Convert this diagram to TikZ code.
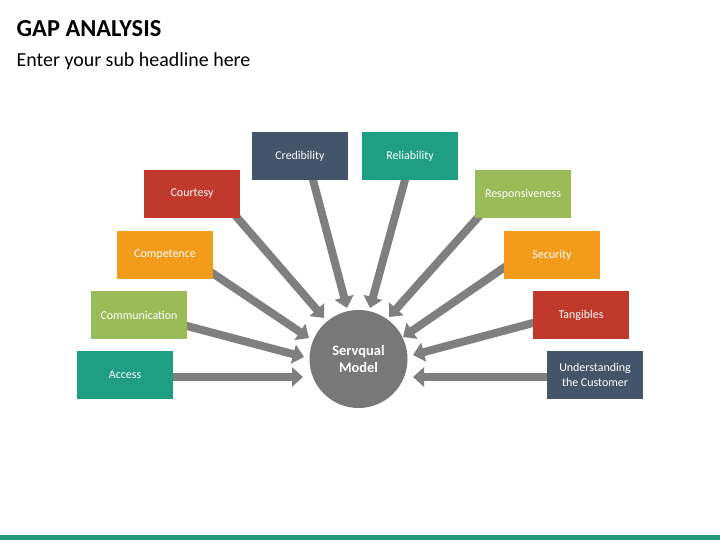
\documentclass[tikz,border=0pt]{standalone}
\usepackage{fontspec}
\setmainfont{Carlito}
\usetikzlibrary{arrows.meta,calc,backgrounds}
\definecolor{slate}{HTML}{44546A}
\definecolor{tealc}{HTML}{1F9E82}
\definecolor{redc}{HTML}{C0392B}
\definecolor{orangec}{HTML}{F39C1C}
\definecolor{greenc}{HTML}{9BBB59}
\definecolor{arrgray}{HTML}{7F7F7F}
\definecolor{circgray}{HTML}{787878}
\definecolor{barteal}{HTML}{22997A}
\begin{document}
\begin{tikzpicture}[x=1bp,y=-1bp,
  box/.style={minimum width=96bp, minimum height=48bp, inner sep=0pt, text=white,
    font=\fontsize{12}{14.3}\selectfont, align=center},
  fat/.style={draw=arrgray, line width=8bp, -{Triangle[width=19bp,length=11bp]}}]
\useasboundingbox (0,0) rectangle (720,540);
\fill[barteal] (0,534.5) rectangle (720,540);
\node[anchor=base west, inner sep=0pt, font=\bfseries\fontsize{24.5}{29}\selectfont] (title) at (16.5,36.7) {GAP ANALYSIS};
\node[anchor=base west, inner sep=0pt, font=\fontsize{20}{24}\selectfont] (sub) at (16.5,66.7) {Enter your sub headline here};

\node[box, fill=slate] (cred) at (300,156) {Credibility};
\node[box, fill=tealc] (rel) at (410,156) {Reliability};
\node[box, fill=redc] (cour) at (192,194) {Courtesy};
\node[box, fill=greenc] (resp) at (523,194) {Responsiveness};
\node[box, fill=orangec] (comp) at (165,255) {Competence};
\node[box, fill=orangec] (sec) at (552,255) {Security};
\node[box, fill=greenc] (comm) at (139,315) {Communication};
\node[box, fill=redc] (tang) at (581,315) {Tangibles};
\node[box, fill=tealc] (acc) at (125,375) {Access};
\node[box, fill=slate] (und) at (595,375) {Understanding\\the Customer};

\node[circle, fill=circgray, minimum size=98bp, inner sep=0pt, text=white,
  font=\bfseries\fontsize{14.5}{17.5}\selectfont, align=center] (srv) at (358.5,359) {Servqual\\Model};

\coordinate (tacc) at (303,377);
\coordinate (tcomm) at (304,357);
\coordinate (tcomp) at (309,338);
\coordinate (tcour) at (324,318);
\coordinate (tcred) at (347,308);
\coordinate (trel) at (370,308);
\coordinate (tresp) at (389,317);
\coordinate (tsec) at (403,337);
\coordinate (ttang) at (413,355);
\coordinate (tund) at (413,377);

\begin{scope}[on background layer]
\draw[fat] ($(acc.east)+(-4,2)$) -- (tacc);
\draw[fat] ($(comm.east)+(-4,10)$) -- (tcomm);
\draw[fat] ($(comp.east)+(-4,16)$) -- (tcomp);
\draw[fat] ($(cour.south east)+(-6,-4)$) -- (tcour);
\draw[fat] ($(cred.south)+(12,-4)$) -- (tcred);
\draw[fat] ($(rel.south)+(-4,-4)$) -- (trel);
\draw[fat] ($(resp.south west)+(6,-4)$) -- (tresp);
\draw[fat] ($(sec.west)+(4,10)$) -- (tsec);
\draw[fat] ($(tang.west)+(4,7)$) -- (ttang);
\draw[fat] ($(und.west)+(4,2)$) -- (tund);
\end{scope}
\end{tikzpicture}
\end{document}
